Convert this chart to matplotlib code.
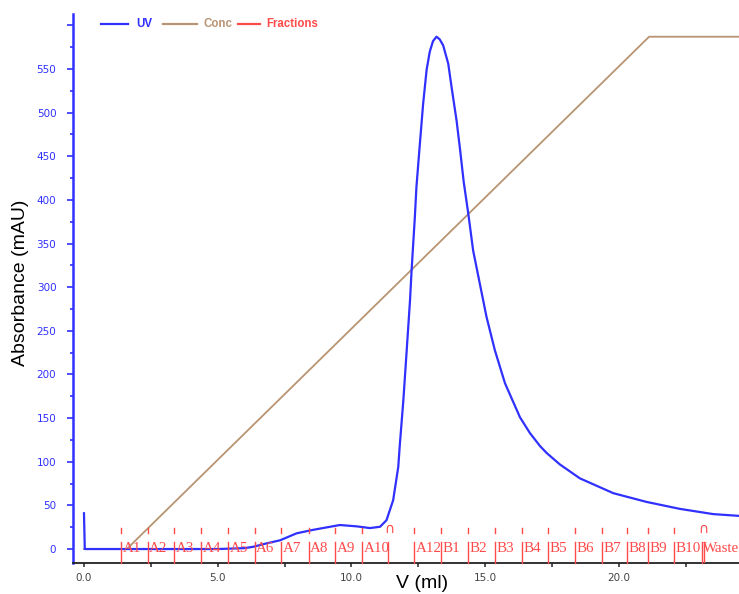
import matplotlib
matplotlib.use("Agg")
import matplotlib.pyplot as plt
from matplotlib.ticker import MultipleLocator, FixedLocator

# ---- data ----
uv_v = [0.0, 0.03, 1.0, 3.0, 5.0, 5.5, 6.0, 6.33, 6.83, 7.33, 7.95, 8.57, 9.2, 9.57,
        10.19, 10.69, 11.07, 11.31, 11.56, 11.75, 11.81, 11.94, 12.06, 12.19, 12.25,
        12.37, 12.43, 12.56, 12.68, 12.81, 12.93, 13.05, 13.18, 13.30, 13.43, 13.62,
        13.74, 13.93, 14.06, 14.20, 14.37, 14.55, 14.80, 15.05, 15.36, 15.74, 16.30,
        16.67, 17.05, 17.30, 17.79, 18.54, 19.79, 21.03, 22.28, 23.53, 24.49]
uv_mau = [41, 0, 0, 0, 0, 0.5, 1, 2.6, 6.5, 10, 18, 22, 25.5, 27.5,
          26, 24, 25.5, 33, 56, 94, 120, 170, 225, 285, 320,
          380, 415, 465, 510, 549, 570, 582, 587, 584, 577, 556,
          530, 491, 458, 420, 384, 342, 304, 266, 228, 190, 151,
          133, 118, 110, 97, 81, 64, 54, 46, 40, 38]

conc_v = [0.0, 1.6, 21.13, 24.6]
conc_val = [0, 0, 587, 587]

frac_pos = [1.38, 2.38, 3.38, 4.38, 5.38, 6.38, 7.38, 8.4, 9.4, 10.4, 11.37, 12.35,
            13.35, 14.34, 15.36, 16.36, 17.36, 18.36, 19.35, 20.3, 21.1, 22.07, 23.09]
frac_labels = ["A1", "A2", "A3", "A4", "A5", "A6", "A7", "A8", "A9", "A10", "", "A12",
               "B1", "B2", "B3", "B4", "B5", "B6", "B7", "B8", "B9", "B10", "Waste"]
event_pos = [11.37, 23.09]

y_ticks = [0, 50, 100, 150, 200, 250, 300, 350, 400, 450, 500, 550, 600]
y_ticklabels = ["0", "50", "100", "150", "200", "250", "300", "350", "400", "450", "500", "550", ""]
x_ticks = [0, 5, 10, 15, 20]
x_ticklabels = ["0.0", "5.0", "10.0", "15.0", "20.0"]

# ---- style ----
UV_C = "#3030ff"
CONC_C = "#b89472"
FRAC_C = "#ff4a4a"

fig = plt.figure(figsize=(7.39, 5.94), dpi=100)
ax = fig.add_axes([0.0988, 0.0522, 0.9012, 0.9242])
ax.set_xlim(-0.41, 24.49)
ax.set_ylim(-16, 613)

ax.plot(conc_v, conc_val, color=CONC_C, lw=1.3, zorder=2, clip_on=False)
ax.plot(uv_v, uv_mau, color=UV_C, lw=1.6, zorder=3, solid_joinstyle="round")

# fractions
for p, lab in zip(frac_pos, frac_labels):
    ax.plot([p, p], [-16, 8], color=FRAC_C, lw=1.0, zorder=4, clip_on=False)
    if p not in event_pos:
        ax.plot([p, p], [18, 24], color=FRAC_C, lw=1.0, zorder=4)
    if lab:
        ax.text(p + 0.06, 0.5, lab, color=FRAC_C, fontsize=10.8, family="Liberation Serif",
                ha="left", va="center", zorder=5, clip_on=True)
for p in event_pos:
    ax.text(p + 0.05, 15, "\u2229", color=FRAC_C, fontsize=10, ha="center", va="bottom",
            family="DejaVu Sans", zorder=5)
ax.plot([event_pos[1] + 0.08] * 2, [-16, 8], color=FRAC_C, lw=1.0, zorder=4)

# spines
for s in ["top", "right"]:
    ax.spines[s].set_visible(False)
ax.spines["left"].set_color(UV_C)
ax.spines["left"].set_linewidth(1.8)
ax.spines["bottom"].set_color("#222222")
ax.spines["bottom"].set_linewidth(1.3)

ax.yaxis.set_major_locator(FixedLocator(y_ticks))
ax.set_yticklabels(y_ticklabels)
ax.yaxis.set_minor_locator(MultipleLocator(25))
ax.tick_params(axis="y", which="both", colors=UV_C, labelcolor=UV_C, labelsize=7.5,
               length=4, width=1.2, direction="out", pad=8)
ax.tick_params(axis="y", which="minor", length=2.5)

ax.xaxis.set_major_locator(FixedLocator(x_ticks))
ax.set_xticklabels(x_ticklabels)
ax.xaxis.set_minor_locator(MultipleLocator(2.5))
ax.tick_params(axis="x", which="both", colors="#333333", labelcolor="#444444", labelsize=7.5,
               length=3, width=1.2, direction="out", pad=4)

ax.set_ylabel("Absorbance (mAU)", fontsize=14, family="Liberation Sans")
ax.set_xlabel("V (ml)", fontsize=14, family="Liberation Sans")
ax.xaxis.set_label_coords(0.524, -0.022)
ax.yaxis.set_label_coords(-0.066, 0.51)

# legend (manual)
legend_items = [("UV", UV_C), ("Conc", CONC_C), ("Fractions", FRAC_C)]
leg_x = [(101, 128, 136), (163, 197, 203), (238, 260, 266)]
ly = (563 - 24) / 549
for (lab, c), (x0, x1, xt) in zip(legend_items, leg_x):
    f0 = (x0 - 73) / 666
    f1 = (x1 - 73) / 666
    ft = (xt - 73) / 666
    ax.plot([f0, f1], [ly, ly], color=c, lw=1.6, transform=ax.transAxes, clip_on=False)
    ax.text(ft, ly, lab, color=c, fontsize=8.3, fontweight="bold", family="Liberation Sans",
            ha="left", va="center", transform=ax.transAxes)

fig.savefig("out.png", dpi=100)
